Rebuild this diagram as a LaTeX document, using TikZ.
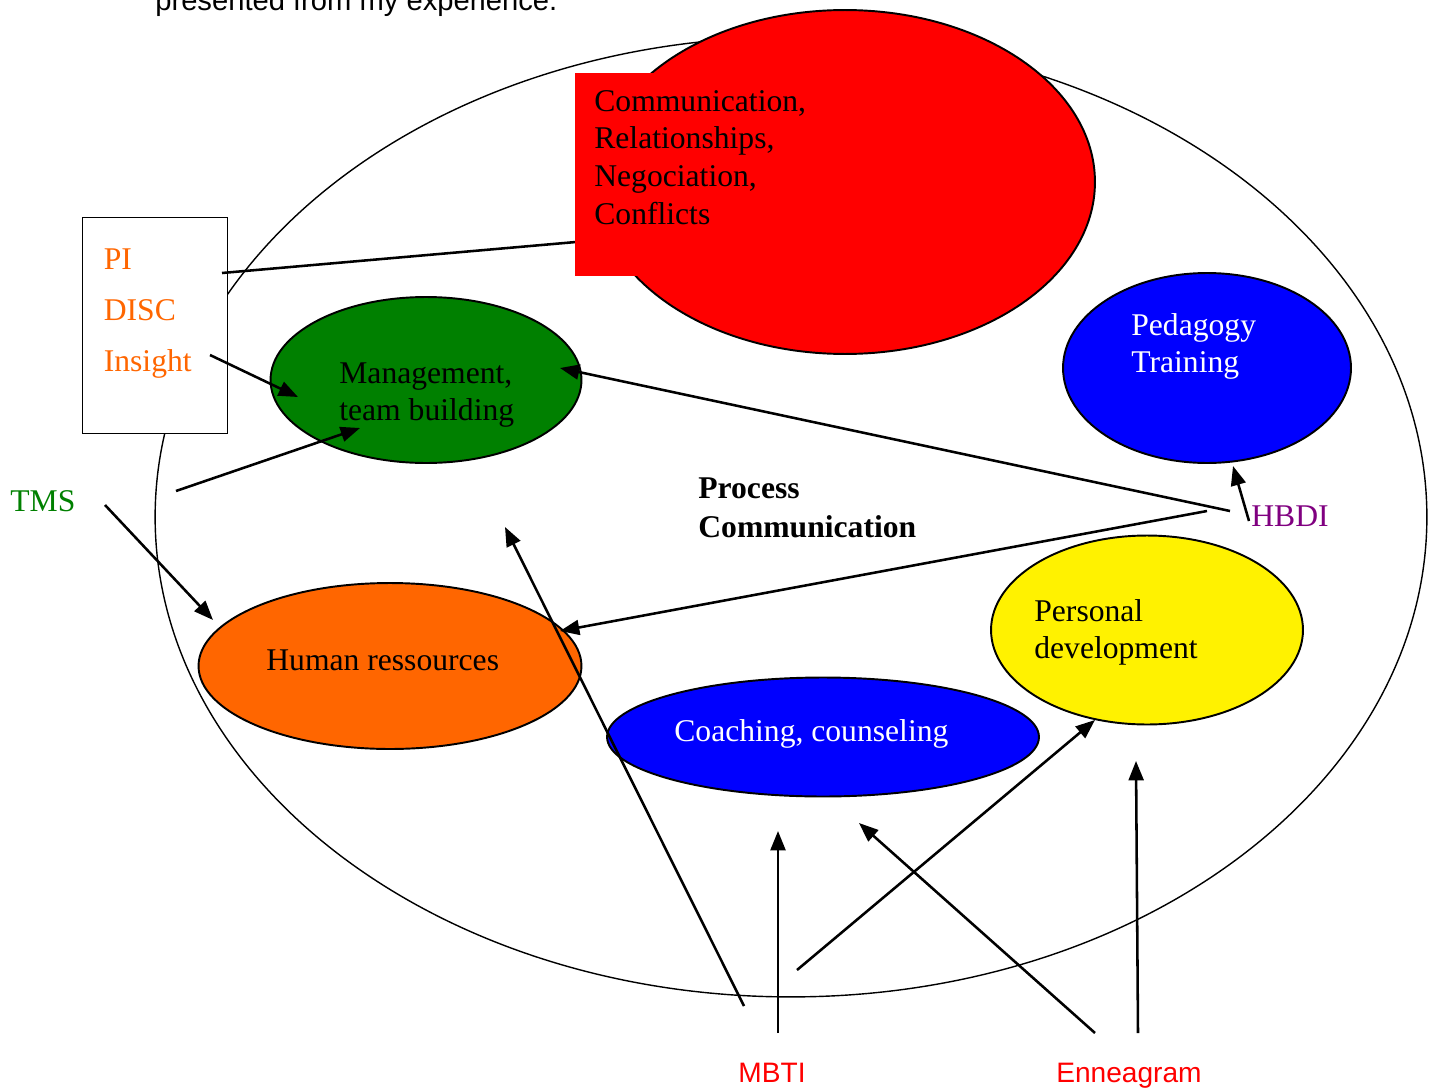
\documentclass[tikz,border=0pt]{standalone}
\usepackage{fontspec}
\setmainfont{Liberation Serif}
\newfontfamily\tahoma{Liberation Sans}
\usepackage{tikz}
\usetikzlibrary{shapes.geometric,arrows.meta}
\definecolor{pumpkin}{HTML}{FF6600}
\definecolor{leaf}{HTML}{008000}
\definecolor{plum}{HTML}{800080}
\tikzset{
  blob/.style={ellipse, draw, line width=1.1pt, inner sep=0pt},
  txt/.style={font=\fontsize{18}{21.4}\selectfont, inner sep=0pt, align=left},
  tool/.style={font=\tahoma\fontsize{16}{19}\selectfont, inner sep=0pt},
  arr/.style={line width=1.45pt, -{Triangle[length=11pt,width=8.5pt]}},
}

\begin{document}
\begin{tikzpicture}[x=0.02cm, y=-0.02cm]
  \useasboundingbox (0,0) rectangle (1433,1088);

  % ---------- caption line, cut by the top edge ----------
  \node[tool, font=\tahoma\fontsize{16.6}{19}\selectfont, anchor=base west] (capline) at (155,11) {presented from my experience.};

  % ---------- outer field + test box ----------
  \node[ellipse, draw, line width=0.8pt, inner sep=0pt, minimum width=25.44cm, minimum height=19.2cm] (field) at (791,517) {};
  \node[draw, fill=white, line width=0.7pt, inner sep=0pt, anchor=north west, minimum width=2.9cm, minimum height=4.32cm] (tests) at (82,217) {};
  \node[txt, font=\fontsize{18}{29.2}\selectfont, text=pumpkin, anchor=north west] (tests-txt) at (103.5,248) {PI\\DISC\\Insight};

  % ---------- red block ----------
  \node[blob, fill=red, minimum width=10cm, minimum height=6.88cm] (comm) at (845,182) {};
  \coordinate (tests-o) at (222,273);
  \coordinate (comm-i) at (576,242);
  \draw[line width=1.45pt] (tests-o) -- (comm-i);
  \node[fill=red, inner sep=0pt, anchor=north west, minimum width=4.9cm, minimum height=4.06cm] (commbox) at (575,73) {};
  \node[txt, anchor=north west] (comm-txt) at (594,90) {Communication,\\Relationships,\\Negociation,\\Conflicts};

  % ---------- the other fields ----------
  \node[blob, fill=leaf, minimum width=6.22cm, minimum height=3.32cm] (mgmt) at (426,380) {};
  \node[txt, anchor=north west] (mgmt-txt) at (339,362) {Management,\\team building};

  \node[blob, fill=blue, minimum width=5.76cm, minimum height=3.8cm] (ped) at (1207,368) {};
  \node[txt, text=white, anchor=north west] (ped-txt) at (1131,313) {Pedagogy\\Training};

  \node[blob, fill=yellow, minimum width=6.24cm, minimum height=3.78cm] (pers) at (1147,630) {};
  \node[txt, anchor=north west] (pers-txt) at (1034,599) {Personal\\development};

  \node[blob, fill=pumpkin, minimum width=7.66cm, minimum height=3.32cm] (hr) at (390,666) {};
  \node[txt, anchor=base west] (hr-txt) at (266,670) {Human ressources};

  \node[blob, fill=blue, minimum width=8.64cm, minimum height=2.38cm] (coach) at (823,737) {};
  \node[txt, text=white, anchor=base west] (coach-txt) at (674,741) {Coaching, counseling};

  \node[txt, font=\bfseries\fontsize{18}{22.2}\selectfont, anchor=north west] (pc) at (698,477) {Process\\Communication};

  % ---------- tools ----------
  \node[txt, text=leaf, anchor=base west] (tms) at (10,511) {TMS};
  \node[txt, text=plum, anchor=base west] (hbdi) at (1251,526) {HBDI};
  \node[tool, text=red, anchor=base] (mbti) at (772,1082) {MBTI};
  \node[tool, text=red, anchor=base] (enn) at (1129,1082) {Enneagram};

  % ---------- arrows ----------
  \coordinate (insight-o) at (210,355);  \coordinate (mgmt-i1) at (298,397);
  \coordinate (tms-o1) at (176,491);     \coordinate (mgmt-i2) at (360,428);
  \coordinate (tms-o2) at (105,505);     \coordinate (hr-i1) at (213,620);
  \coordinate (hbdi-o1) at (1230,511);   \coordinate (mgmt-i3) at (560,368);
  \coordinate (hbdi-o2) at (1249,521);   \coordinate (ped-i) at (1233,466);
  \coordinate (hbdi-o3) at (1207,511);   \coordinate (hr-i2) at (560,631);
  \coordinate (mbti-o1) at (744,1006);   \coordinate (mid-i) at (505,527);
  \coordinate (mbti-o2) at (778,1033);   \coordinate (coach-i1) at (778,831);
  \coordinate (mbti-o3) at (797,970);    \coordinate (pers-i1) at (1095,720);
  \coordinate (enn-o1) at (1095,1033);   \coordinate (coach-i2) at (859,823);
  \coordinate (enn-o2) at (1138,1033);   \coordinate (pers-i2) at (1136,761);

  \draw[arr] (insight-o) -- (mgmt-i1);
  \draw[arr] (tms-o1) -- (mgmt-i2);
  \draw[arr] (tms-o2) -- (hr-i1);
  \draw[arr] (hbdi-o1) -- (mgmt-i3);
  \draw[arr] (hbdi-o2) -- (ped-i);
  \draw[arr] (hbdi-o3) -- (hr-i2);
  \draw[arr] (mbti-o1) -- (mid-i);
  \draw[arr] (mbti-o2) -- (coach-i1);
  \draw[arr] (mbti-o3) -- (pers-i1);
  \draw[arr] (enn-o1) -- (coach-i2);
  \draw[arr] (enn-o2) -- (pers-i2);

\end{tikzpicture}
\end{document}
